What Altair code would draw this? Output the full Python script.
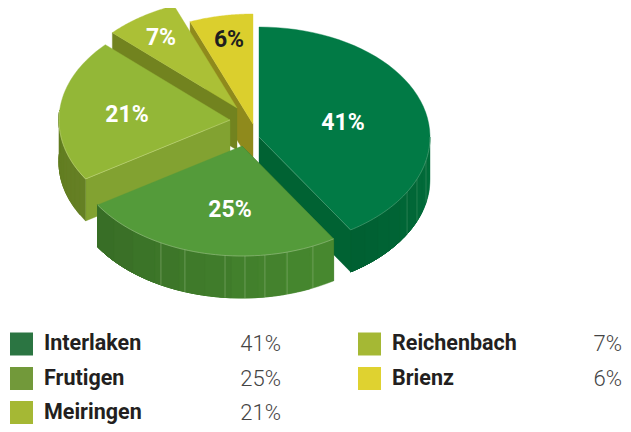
import math
import altair as alt
import pandas as pd

# ---- data -------------------------------------------------------------
regions = ["Interlaken", "Frutigen", "Meiringen", "Reichenbach", "Brienz"]
shares = [41, 25, 21, 7, 6]
legend_colors = ["#2b7542", "#72993a", "#a5b834", "#a5b834", "#dfd230"]
top_colors = ["#017a45", "#549b3a", "#93b737", "#abc036", "#dbcf2d"]
face_colors = ["#006233", "#3a7026", "#82a231", "#72831f", "#8f8a1c"]
rim_dark = ["#005f31", "#376c25", "#627c21", "#72831f", "#8f8a1c"]
rim_light = ["#016e3c", "#488a30", "#658024", "#72831f", "#8f8a1c"]
label_colors = ["#ffffff", "#ffffff", "#ffffff", "#ffffff", "#1f1f1f"]

# ---- layout of the exploded, tilted pie ---------------------------------
OFF = 8
RX, RY, DEPTH = 171, 110, 42
apex = {
    "Interlaken": (259, 137),
    "Frutigen": (242, 146),
    "Meiringen": (230, 120),
    "Reichenbach": (237, 108),
    "Brienz": (253, 124),
}
label_pos = {
    "Interlaken": (343, 123),
    "Frutigen": (230, 210),
    "Meiringen": (127, 115),
    "Reichenbach": (161, 38),
    "Brienz": (229, 40),
}
seams = {
    "Interlaken": [120, 112.5, 102.4],
    "Frutigen": [208.3, 199.5, 185.7, 179, 172.3, 164.7, 155.5],
}
seam_stroke = {"Interlaken": "#3f8f63", "Frutigen": "#86ad72"}

starts = {}
running = 0.0
for r, s in zip(regions, shares):
    starts[r] = (running * 3.6, (running + s) * 3.6)
    running += s


def pt(r, deg, drop=0.0):
    cx, cy = apex[r]
    a = math.radians(deg)
    return [cx + RX * math.sin(a) - OFF, cy - RY * math.cos(a) + drop - OFF]


def arc(r, a0, a1, drop=0.0, n=48):
    return [pt(r, a0 + (a1 - a0) * i / n, drop) for i in range(n + 1)]


def core(r, drop=0.0):
    cx, cy = apex[r]
    return [cx - OFF, cy + drop - OFF]


def mix(c0, c1, t):
    a = [int(c0[i:i + 2], 16) for i in (1, 3, 5)]
    b = [int(c1[i:i + 2], 16) for i in (1, 3, 5)]
    return "#" + "".join(f"{round(x + (y - x) * t):02x}" for x, y in zip(a, b))


def poly(points, color):
    ring = points + [points[0]]
    return {"type": "Feature", "geometry": {"type": "Polygon", "coordinates": [ring]},
            "properties": {"c": color}}


def line(points, color):
    return {"type": "Feature", "geometry": {"type": "LineString", "coordinates": points},
            "properties": {"c": color}}


features = []
for r in ["Brienz", "Reichenbach", "Meiringen", "Interlaken", "Frutigen"]:
    i = regions.index(r)
    a0, a1 = starts[r]
    # cut face that looks towards the viewer
    edge = a1 if r == "Interlaken" else a0
    features.append(poly([core(r), pt(r, edge), pt(r, edge, DEPTH), core(r, DEPTH)], face_colors[i]))
    # outer rim: overlapping strips so the soft shading shows no hairlines
    lo = max(a0, 90) if r == "Interlaken" else a0
    hi = min(a1, 275)
    if hi > lo:
        strips = 10
        for k in range(strips):
            u0 = lo + (hi - lo) * k / strips
            t = (k + 0.5) / strips
            col = mix(rim_light[i], rim_dark[i], t)
            features.append(poly(arc(r, hi, u0, 0, 30) + arc(r, u0, hi, DEPTH, 30), col))
    # top
    features.append(poly([core(r)] + arc(r, a0, a1), top_colors[i]))

lines = []
for r, angles in seams.items():
    for a in angles:
        lines.append(line([pt(r, a), pt(r, a, DEPTH)], seam_stroke[r]))
lines.append(line(arc("Interlaken", 90, 147.6) + [core("Interlaken")], "#5aa37c"))
lines.append(line(arc("Frutigen", 147.6, 237.6), "#9cc088"))
lines.append(line([core("Meiringen")] + arc("Meiringen", 237.6, 275)[:], "#c3d67f"))

proj = alt.Projection(type="identity", scale=1, translate=[0, 0])

shapes = alt.Chart(alt.Data(values=features)).mark_geoshape(strokeWidth=0.4).encode(
    fill=alt.Fill("properties.c:N", scale=None),
    stroke=alt.Stroke("properties.c:N", scale=None),
).project(**proj.to_dict())

edges = alt.Chart(alt.Data(values=lines)).mark_geoshape(filled=False, strokeWidth=0.6).encode(
    stroke=alt.Stroke("properties.c:N", scale=None),
).project(**proj.to_dict())

FONT = "Roboto"

labels = pd.DataFrame({
    "t": [f"{s}%" for s in shares],
    "x": [label_pos[r][0] - OFF for r in regions],
    "y": [label_pos[r][1] - OFF for r in regions],
    "c": label_colors,
})
label_layer = alt.Chart(labels).mark_text(font=FONT, fontWeight="bold", fontSize=23, baseline="middle", align="center").encode(
    x=alt.X("x:Q", scale=None, axis=None),
    y=alt.Y("y:Q", scale=None, axis=None),
    text="t:N",
    color=alt.Color("c:N", scale=None),
)

# ---- legend -------------------------------------------------------------
col_x = [10, 10, 10, 358, 358]
row_y = [344, 378.5, 412.5, 344, 378.5]
val_x = [281, 281, 281, 622, 622]
leg = pd.DataFrame({
    "name": regions,
    "val": [f"{s}%" for s in shares],
    "c": legend_colors,
    "x0": [x - OFF for x in col_x],
    "x1": [x + 23 - OFF for x in col_x],
    "y0": [y - 11.5 - OFF for y in row_y],
    "y1": [y + 11.5 - OFF for y in row_y],
    "tx": [x + 34 - OFF for x in col_x],
    "vx": [x - OFF for x in val_x],
    "ty": [y - OFF for y in row_y],
})
swatches = alt.Chart(leg).mark_rect().encode(
    x=alt.X("x0:Q", scale=None, axis=None), x2="x1:Q",
    y=alt.Y("y0:Q", scale=None, axis=None), y2="y1:Q",
    color=alt.Color("c:N", scale=None),
)
names = alt.Chart(leg).mark_text(font=FONT, fontWeight="bold", fontSize=21.5, align="left", baseline="middle", color="#231f20").encode(
    x=alt.X("tx:Q", scale=None, axis=None),
    y=alt.Y("ty:Q", scale=None, axis=None),
    text="name:N",
)
values = alt.Chart(leg).mark_text(font=FONT, fontWeight=300, fontSize=22, align="right", baseline="middle", color="#444444").encode(
    x=alt.X("vx:Q", scale=None, axis=None),
    y=alt.Y("ty:Q", scale=None, axis=None),
    text="val:N",
)

chart = alt.layer(shapes, edges, label_layer, swatches, names, values).properties(
    width=615, height=416, padding=0, autosize=alt.AutoSizeParams(type="none"),
).configure_view(stroke=None)

chart.save("out.html", embed_options={"renderer": "svg", "actions": False})
